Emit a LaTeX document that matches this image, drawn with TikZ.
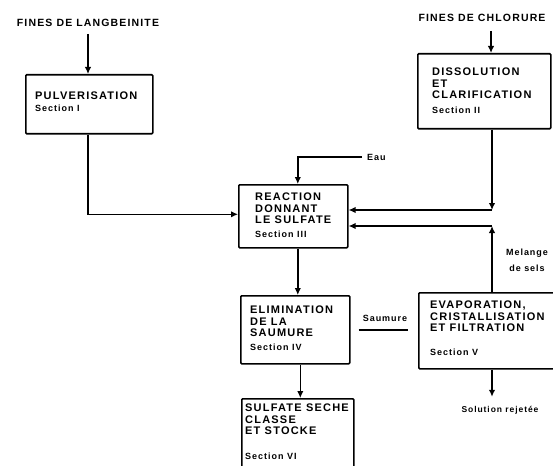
\documentclass[tikz,border=0pt]{standalone}
\usepackage{fontspec}
\setmainfont{Liberation Sans}[LetterSpace=11]
\usetikzlibrary{arrows.meta}
\begin{document}
\begin{tikzpicture}[x=1pt,y=-1pt,
  box/.style={draw, line width=1.6pt, rounded corners=1pt, anchor=north west, inner sep=0pt},
  btext/.style={anchor=north west, inner sep=0pt, align=left, font=\bfseries\fontsize{11}{11.5}\selectfont},
  lbl/.style={inner sep=0pt, font=\bfseries\fontsize{10.5}{12}\selectfont},
  small/.style={inner sep=0pt, align=center, font=\bfseries\fontsize{9}{16}\selectfont},
  flow/.style={line width=1.6pt},
  arr/.style={flow, -{Latex[length=7pt,width=6.5pt]}}]
\newcommand{\secfont}{\fontsize{9}{11}\selectfont}
\useasboundingbox (0,0) rectangle (553,465);
\clip (0,0) rectangle (553,465);

% process boxes
\node[box, minimum width=127pt, minimum height=59pt] (pulv) at (25,74) {};
\node[box, minimum width=133pt, minimum height=75pt] (diss) at (417,53) {};
\node[box, minimum width=109pt, minimum height=63pt] (react) at (238,184) {};
\node[box, minimum width=109pt, minimum height=68pt] (elim) at (240,295) {};
\node[box, minimum width=150pt, minimum height=76pt] (evap) at (418,292) {};
\node[box, minimum width=112pt, minimum height=80pt] (sulf) at (241,398) {};

% box captions
\node[btext] (pulvt) at (35,92) {PULVERISATION\\[0.5pt]{\secfont Section I}};
\node[btext] (disst) at (432,68) {DISSOLUTION\\ET\\CLARIFICATION\\[3.5pt]{\secfont Section II}};
\node[btext] (reactt) at (255,193) {REACTION\\DONNANT\\LE SULFATE\\[2.5pt]{\secfont Section III}};
\node[btext] (elimt) at (250,306) {ELIMINATION\\DE LA\\SAUMURE\\[2.5pt]{\secfont Section IV}};
\node[btext] (evapt) at (430,301) {EVAPORATION,\\CRISTALLISATION\\ET FILTRATION\\[12pt]{\secfont Section V}};
\node[btext] (sulft) at (245,404) {SULFATE SECHE\\CLASSE\\ET STOCKE\\[13pt]{\secfont Section VI}};

% feed and product labels
\node[lbl] (lang) at (88,23) {FINES DE LANGBEINITE};
\node[lbl] (chlor) at (482,18) {FINES DE CHLORURE};
\node[small, anchor=west] (eau) at (367,157) {Eau};
\node[small] (saum) at (385,318) {Saumure};
\node[small] (mel) at (527,260) {Melange\\de sels};
\node[small, font=\bfseries\fontsize{8.5}{12}\selectfont] (sol) at (500,410) {Solution rejetée};

% bend points of the return lines
\coordinate (c1) at (492,210);
\coordinate (c2) at (492,226);

% connectors
\draw[arr, shorten <=7pt] (lang.south) -- (lang.south |- pulv.north);
\draw[arr] (pulv.south -| lang.south) |- ([yshift=2pt]react.west);
\draw[arr, shorten <=9pt] ([xshift=9pt]chlor.south) -- ([xshift=9pt]chlor.south |- diss.north);
\draw[arr] (diss.south -| c1) -- (c1);
\draw[arr] (c1) -- (c1 -| react.east);
\draw[arr, shorten <=5pt] (eau.west) -| ([xshift=4.5pt]react.north);
\draw[arr] (evap.north -| c2) -- (c2);
\draw[arr] (c2) -- (c2 -| react.east);
\draw[arr] ([xshift=4.5pt]react.south) -- ([xshift=4.5pt]react.south |- elim.north);
\draw[arr] ([xshift=5pt]elim.south) -- ([xshift=5pt]elim.south |- sulf.north);
\draw[flow, shorten <=8pt, shorten >=10pt] (elim.east) -- (elim.east -| evap.west);
\draw[arr, shorten >=9pt] (evap.south -| c2) -- (c2 |- sol.north);
\end{tikzpicture}
\end{document}
